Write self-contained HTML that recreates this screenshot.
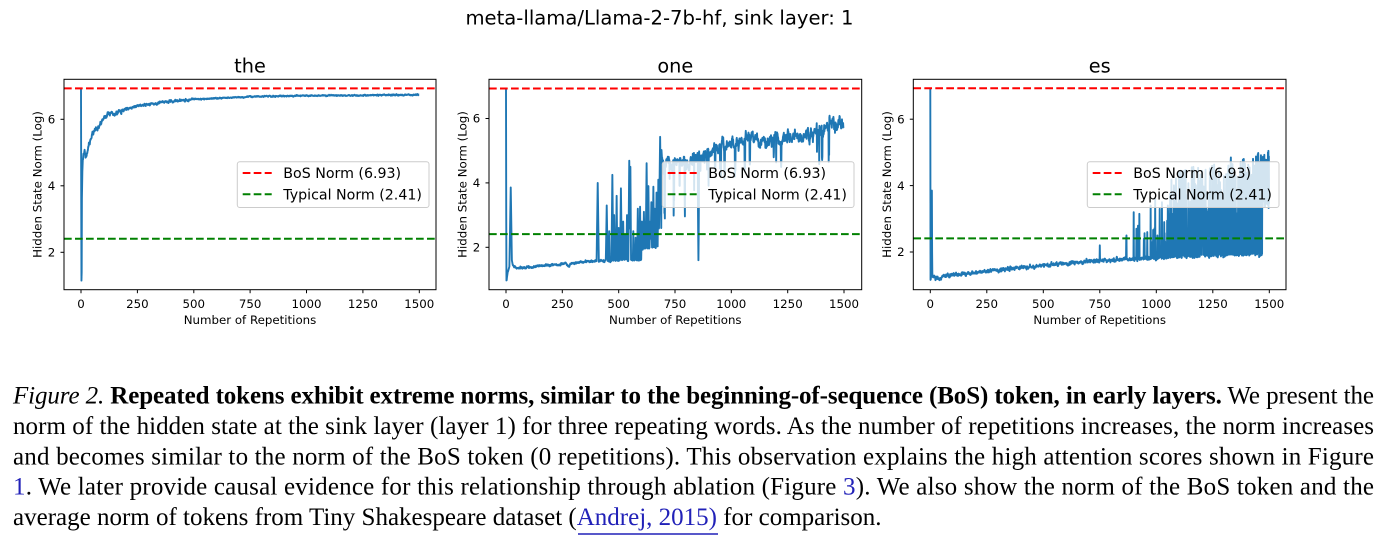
<!DOCTYPE html>
<html>
<head>
<meta charset="utf-8">
<style>
  html,body{margin:0;padding:0;background:#fff;}
  svg{display:block;}
  .dv{font-family:"DejaVu Sans","Liberation Sans",sans-serif;}
  .cap{font-family:"Liberation Serif","Times New Roman",serif;font-size:25px;fill:#000;}
</style>
</head>
<body>
<svg width="1383" height="538" viewBox="0 0 1383 538" xmlns="http://www.w3.org/2000/svg">
  <defs>
    <clipPath id="c1"><rect x="64" y="79.3" width="372" height="210.4"/></clipPath>
    <clipPath id="c2"><rect x="489" y="79.3" width="372.7" height="210.4"/></clipPath>
    <clipPath id="c3"><rect x="913.3" y="79.3" width="372.7" height="210.4"/></clipPath>
  </defs>

  <!-- Suptitle -->
  <text class="dv" x="659.5" y="24.5" font-size="19.6" text-anchor="middle">meta-llama/Llama-2-7b-hf, sink layer: 1</text>

  <!-- ============ Subplot 1 ============ -->
  <g class="dv">
    <text x="250" y="72.5" font-size="19.3" text-anchor="middle">the</text>
    <path id="p1" d="" fill="none" stroke="#1f77b4" stroke-width="1.9" stroke-linejoin="round" clip-path="url(#c1)"/>
    <line x1="64" x2="436" y1="88.4" y2="88.4" stroke="#ff0000" stroke-width="2" stroke-dasharray="7.7 3.3"/>
    <line x1="64" x2="436" y1="238.7" y2="238.7" stroke="#008000" stroke-width="2" stroke-dasharray="7.7 3.3"/>
    <rect x="64" y="79.3" width="372" height="210.4" fill="none" stroke="#000" stroke-width="1"/>
    <g stroke="#000" stroke-width="1">
      <line x1="81" x2="81" y1="289.7" y2="293.2"/>
      <line x1="137.4" x2="137.4" y1="289.7" y2="293.2"/>
      <line x1="193.8" x2="193.8" y1="289.7" y2="293.2"/>
      <line x1="250.1" x2="250.1" y1="289.7" y2="293.2"/>
      <line x1="306.5" x2="306.5" y1="289.7" y2="293.2"/>
      <line x1="362.9" x2="362.9" y1="289.7" y2="293.2"/>
      <line x1="419.3" x2="419.3" y1="289.7" y2="293.2"/>
      <line x1="60.5" x2="64" y1="252.3" y2="252.3"/>
      <line x1="60.5" x2="64" y1="185.8" y2="185.8"/>
      <line x1="60.5" x2="64" y1="119.3" y2="119.3"/>
    </g>
    <g font-size="11.8" text-anchor="middle">
      <text x="81" y="308">0</text>
      <text x="137.4" y="308">250</text>
      <text x="193.8" y="308">500</text>
      <text x="250.1" y="308">750</text>
      <text x="306.5" y="308">1000</text>
      <text x="362.9" y="308">1250</text>
      <text x="419.3" y="308">1500</text>
    </g>
    <g font-size="11.8" text-anchor="end">
      <text x="55.3" y="256.5">2</text>
      <text x="55.3" y="190">4</text>
      <text x="55.3" y="123.5">6</text>
    </g>
    <text x="250" y="323.8" font-size="11.8" text-anchor="middle">Number of Repetitions</text>
    <text transform="translate(41.7,184.5) rotate(-90)" font-size="11.8" text-anchor="middle">Hidden State Norm (Log)</text>
    <rect x="237.3" y="161.7" width="191.7" height="45.8" rx="2.5" fill="#fff" fill-opacity="0.8" stroke="#cccccc" stroke-width="1"/>
    <line x1="242.7" x2="271.7" y1="173" y2="173" stroke="#ff0000" stroke-width="2" stroke-dasharray="7.7 3.3"/>
    <line x1="242.7" x2="271.7" y1="194.3" y2="194.3" stroke="#008000" stroke-width="2" stroke-dasharray="7.7 3.3"/>
    <text x="283.3" y="178.2" font-size="14.2">BoS Norm (6.93)</text>
    <text x="283.3" y="199.5" font-size="14.2">Typical Norm (2.41)</text>
  </g>

  <!-- ============ Subplot 2 ============ -->
  <g class="dv">
    <text x="675.3" y="72.5" font-size="19.3" text-anchor="middle">one</text>
    <path id="p2" d="" fill="none" stroke="#1f77b4" stroke-width="1.9" stroke-linejoin="round" clip-path="url(#c2)"/>
    <line x1="489" x2="861.7" y1="88.5" y2="88.5" stroke="#ff0000" stroke-width="2" stroke-dasharray="7.7 3.3"/>
    <line x1="489" x2="861.7" y1="234.1" y2="234.1" stroke="#008000" stroke-width="2" stroke-dasharray="7.7 3.3"/>
    <rect x="489" y="79.3" width="372.7" height="210.4" fill="none" stroke="#000" stroke-width="1"/>
    <g stroke="#000" stroke-width="1">
      <line x1="506" x2="506" y1="289.7" y2="293.2"/>
      <line x1="562.3" x2="562.3" y1="289.7" y2="293.2"/>
      <line x1="618.7" x2="618.7" y1="289.7" y2="293.2"/>
      <line x1="675" x2="675" y1="289.7" y2="293.2"/>
      <line x1="731.3" x2="731.3" y1="289.7" y2="293.2"/>
      <line x1="787.7" x2="787.7" y1="289.7" y2="293.2"/>
      <line x1="844" x2="844" y1="289.7" y2="293.2"/>
      <line x1="485.5" x2="489" y1="247.3" y2="247.3"/>
      <line x1="485.5" x2="489" y1="182.9" y2="182.9"/>
      <line x1="485.5" x2="489" y1="118.5" y2="118.5"/>
    </g>
    <g font-size="11.8" text-anchor="middle">
      <text x="506" y="308">0</text>
      <text x="562.3" y="308">250</text>
      <text x="618.7" y="308">500</text>
      <text x="675" y="308">750</text>
      <text x="731.3" y="308">1000</text>
      <text x="787.7" y="308">1250</text>
      <text x="844" y="308">1500</text>
    </g>
    <g font-size="11.8" text-anchor="end">
      <text x="480.3" y="251.5">2</text>
      <text x="480.3" y="187.1">4</text>
      <text x="480.3" y="122.7">6</text>
    </g>
    <text x="675.3" y="323.8" font-size="11.8" text-anchor="middle">Number of Repetitions</text>
    <text transform="translate(466.7,184.5) rotate(-90)" font-size="11.8" text-anchor="middle">Hidden State Norm (Log)</text>
    <rect x="662.3" y="161.7" width="191.7" height="45.8" rx="2.5" fill="#fff" fill-opacity="0.8" stroke="#cccccc" stroke-width="1"/>
    <line x1="667.7" x2="696.7" y1="173" y2="173" stroke="#ff0000" stroke-width="2" stroke-dasharray="7.7 3.3"/>
    <line x1="667.7" x2="696.7" y1="194.3" y2="194.3" stroke="#008000" stroke-width="2" stroke-dasharray="7.7 3.3"/>
    <text x="708.3" y="178.2" font-size="14.2">BoS Norm (6.93)</text>
    <text x="708.3" y="199.5" font-size="14.2">Typical Norm (2.41)</text>
  </g>

  <!-- ============ Subplot 3 ============ -->
  <g class="dv">
    <text x="1099.7" y="72.5" font-size="19.3" text-anchor="middle">es</text>
    <path id="p3" d="" fill="none" stroke="#1f77b4" stroke-width="1.9" stroke-linejoin="round" clip-path="url(#c3)"/>
    <line x1="913.3" x2="1286" y1="88.3" y2="88.3" stroke="#ff0000" stroke-width="2" stroke-dasharray="7.7 3.3"/>
    <line x1="913.3" x2="1286" y1="238.4" y2="238.4" stroke="#008000" stroke-width="2" stroke-dasharray="7.7 3.3"/>
    <rect x="913.3" y="79.3" width="372.7" height="210.4" fill="none" stroke="#000" stroke-width="1"/>
    <g stroke="#000" stroke-width="1">
      <line x1="930.3" x2="930.3" y1="289.7" y2="293.2"/>
      <line x1="986.8" x2="986.8" y1="289.7" y2="293.2"/>
      <line x1="1043.3" x2="1043.3" y1="289.7" y2="293.2"/>
      <line x1="1099.8" x2="1099.8" y1="289.7" y2="293.2"/>
      <line x1="1156.3" x2="1156.3" y1="289.7" y2="293.2"/>
      <line x1="1212.8" x2="1212.8" y1="289.7" y2="293.2"/>
      <line x1="1269.3" x2="1269.3" y1="289.7" y2="293.2"/>
      <line x1="909.8" x2="913.3" y1="252" y2="252"/>
      <line x1="909.8" x2="913.3" y1="185.6" y2="185.6"/>
      <line x1="909.8" x2="913.3" y1="119.2" y2="119.2"/>
    </g>
    <g font-size="11.8" text-anchor="middle">
      <text x="930.3" y="308">0</text>
      <text x="986.8" y="308">250</text>
      <text x="1043.3" y="308">500</text>
      <text x="1099.8" y="308">750</text>
      <text x="1156.3" y="308">1000</text>
      <text x="1212.8" y="308">1250</text>
      <text x="1269.3" y="308">1500</text>
    </g>
    <g font-size="11.8" text-anchor="end">
      <text x="904.6" y="256.2">2</text>
      <text x="904.6" y="189.8">4</text>
      <text x="904.6" y="123.4">6</text>
    </g>
    <text x="1099.7" y="323.8" font-size="11.8" text-anchor="middle">Number of Repetitions</text>
    <text transform="translate(891,184.5) rotate(-90)" font-size="11.8" text-anchor="middle">Hidden State Norm (Log)</text>
    <rect x="1087.3" y="161.7" width="191.7" height="45.8" rx="2.5" fill="#fff" fill-opacity="0.8" stroke="#cccccc" stroke-width="1"/>
    <line x1="1092.7" x2="1121.7" y1="173" y2="173" stroke="#ff0000" stroke-width="2" stroke-dasharray="7.7 3.3"/>
    <line x1="1092.7" x2="1121.7" y1="194.3" y2="194.3" stroke="#008000" stroke-width="2" stroke-dasharray="7.7 3.3"/>
    <text x="1133.3" y="178.2" font-size="14.2">BoS Norm (6.93)</text>
    <text x="1133.3" y="199.5" font-size="14.2">Typical Norm (2.41)</text>
  </g>

  <!-- ============ Caption ============ -->
  <g class="cap">
    <text x="13" y="403.5" textLength="1361" lengthAdjust="spacing"><tspan font-style="italic">Figure 2.</tspan><tspan font-weight="bold"> Repeated tokens exhibit extreme norms, similar to the beginning-of-sequence (BoS) token, in early layers.</tspan> We present the</text>
    <text x="13" y="433.9" textLength="1361" lengthAdjust="spacing">norm of the hidden state at the sink layer (layer 1) for three repeating words. As the number of repetitions increases, the norm increases</text>
    <text x="13" y="464.3" textLength="1361" lengthAdjust="spacing">and becomes similar to the norm of the BoS token (0 repetitions). This observation explains the high attention scores shown in Figure</text>
    <text x="13" y="494.7" textLength="1361" lengthAdjust="spacing"><tspan fill="#2121b8">1</tspan>. We later provide causal evidence for this relationship through ablation (Figure <tspan fill="#2121b8">3</tspan>). We also show the norm of the BoS token and the</text>
    <text x="13" y="525.1">average norm of tokens from Tiny Shakespeare dataset (<tspan fill="#2121b8">Andrej, 2015)</tspan> for comparison.</text>
    <line x1="578" x2="718" y1="534" y2="534" stroke="#2121b8" stroke-width="1.5"/>
  </g>
</svg>

<script>
(function(){
  function mulberry32(a){return function(){a|=0;a=a+0x6D2B79F5|0;var t=Math.imul(a^a>>>15,1|a);t=t+Math.imul(t^t>>>7,61|t)^t;return((t^t>>>14)>>>0)/4294967296;};}
  var R=mulberry32(12345);
  function g(){return (R()+R()+R()-1.5)*1.15;}
  function interp(pts,v){
    if(v<=pts[0][0])return pts[0][1];
    for(var i=0;i<pts.length-1;i++){
      if(v<=pts[i+1][0]){var x0=pts[i][0],y0=pts[i][1],x1=pts[i+1][0],y1=pts[i+1][1];return y0+(y1-y0)*(v-x0)/(x1-x0);}
    }
    return pts[pts.length-1][1];
  }
  function draw(id,data,x0,xs,y2,ys){
    var s='';
    for(var i=0;i<data.length;i++){
      var x=x0+i*xs,y=y2-(data[i]-2)*ys;
      s+=(i?'L':'M')+x.toFixed(2)+' '+y.toFixed(2);
    }
    document.getElementById(id).setAttribute('d',s);
  }

  // Series 1: "the"
  (function(){
    var cp=[[4,3.6],[6,4.4],[8,4.7],[12,4.95],[16,5.1],[20,4.85],[26,4.95],[35,5.2],[45,5.45],[55,5.6],[65,5.7],[80,5.8],[100,6.0],[120,6.15],[135,6.22],[150,6.1],[165,6.2],[200,6.3],[250,6.4],[300,6.45],[400,6.55],[500,6.6],[600,6.63],[750,6.68],[1000,6.71],[1250,6.72],[1499,6.74]];
    var d=[6.93,3.5,1.15,1.4];var n=0;
    for(var v=4;v<1500;v++){var amp=v<200?0.05:(v<500?0.028:0.014);n=0.6*n+g()*amp;d.push(interp(cp,v)+n);}
    draw('p1',d,81,338.3/1500,252.3,33.25);
  })();

  // Series 2: "one"
  (function(){
    var d=[];var first=[6.93,3.0,0.97,0.98,1.05,1.1,1.15,1.2,1.25];
    var sp0=[[9,1.25],[15,1.4],[18,2.6],[21,3.86],[23,3.0],[26,1.6],[30,1.45]];
    var b1=[[30,1.42],[50,1.35],[100,1.38],[150,1.42],[200,1.45],[250,1.48],[265,1.52],[277,1.38],[290,1.5],[350,1.55],[400,1.57]];
    var b2=[[400,1.57],[600,1.62],[605,1.95],[690,2.05]];
    var spikes=[[407,4.0,5],[447,3.3,4],[458,2.5,2],[472,4.25,4],[480,3.0,3],[491,3.6,3],[500,2.6,2],[510,3.83,4],[520,2.8,3],[528,2.4,2],[537,3.0,3],[547,4.69,4],[552,4.5,3],[565,2.5,2],[575,2.3,2],[585,3.2,3],[595,3.26,3],[603,2.8,3],[612,3.1,3],[618,2.6,2],[624,4.61,4],[632,3.9,3],[640,2.8,3],[645,3.4,3],[654,3.88,3],[660,3.2,3],[668,3.7,3],[676,4.1,3],[684,5.43,6]];
    var b3=[[690,5.2],[700,4.4],[720,4.6],[760,4.7],[800,4.6],[840,4.9],[870,4.8],[900,4.9],[950,5.1],[1000,5.2],[1050,5.3],[1100,5.4],[1150,5.3],[1200,5.35],[1250,5.45],[1300,5.45],[1350,5.55],[1400,5.65],[1450,5.8],[1499,5.8]];
    var n=0,dip=0,dipLeft=0;
    for(var v=0;v<1500;v++){
      var val;
      if(v<9)val=first[v];
      else if(v<30)val=interp(sp0,v);
      else if(v<400){n=0.6*n+g()*0.025;val=interp(b1,v)+n;}
      else if(v<690){
        n=0.5*n+g()*0.03;var base=interp(b2,v)+n;val=base;
        for(var k=0;k<spikes.length;k++){var c=spikes[k][0],h=spikes[k][1],w=spikes[k][2];var dd=Math.abs(v-c);if(dd<=w){var sv=h-(h-base)*dd/w;if(sv>val)val=sv;}}
      } else {
        n=0.7*n+g()*0.14;val=interp(b3,v)+n;
        var p=v<900?0.07:0.03;
        if(dipLeft<=0&&R()<p){dip=0.5+R()*(v<900?1.3:0.8);dipLeft=1+Math.floor(R()*3);}
        if(dipLeft>0){val-=dip*(0.6+0.4*R());dipLeft--;}
        if(v>=852&&v<=856){var prof={852:3.2,853:2.3,854:1.6,855:2.3,856:3.4};val=prof[v];}
      }
      d.push(val);
    }
    draw('p2',d,506,338/1500,247.3,32.2);
  })();

  // Series 3: "es"
  (function(){
    var d=[];var first=[6.93,1.16,1.18,1.25,1.3,1.3,2.5,3.85,2.0,1.35];
    var b=[[10,1.3],[20,1.22],[35,1.2],[60,1.27],[250,1.43],[500,1.6],[750,1.74],[1000,1.83],[1250,1.9],[1499,1.95]];
    var iso={750:2.2,868:2.5,900:3.2,912:2.7,925:3.15,945:2.4,960:2.6,975:3.4,983:2.3,995:3.6,1005:2.5,1015:3.3,1025:3.5,1035:2.9,1030:2.4};
    var P=[[1040,0.25],[1100,0.45],[1300,0.55],[1470,0.6]];
    var U=[[1040,3.9],[1060,4.2],[1100,4.5],[1200,4.6],[1300,4.85],[1420,5.05],[1470,5.05]];
    var n=0;
    for(var v=0;v<1500;v++){
      var val;
      if(v<10)val=first[v];
      else{
        n=0.5*n+g()*0.045;val=interp(b,v)+n;
        if(iso[v]!==undefined)val=iso[v];
        else if(v>=1040&&v<1470){
          if(R()<interp(P,v)){var u=interp(U,v);val=2.4+Math.pow(R(),0.85)*(u-2.4);}
        } else if(v>=1470){
          val=(v%2==0)?(4.0+R()*1.05):(3.3+R()*0.5);
        } else if(v>860&&v<1040&&R()<0.03){val=2.2+R()*0.6;}
      }
      d.push(val);
    }
    draw('p3',d,930.3,0.226,252,33.2);
  })();
})();
</script>
</body>
</html>
